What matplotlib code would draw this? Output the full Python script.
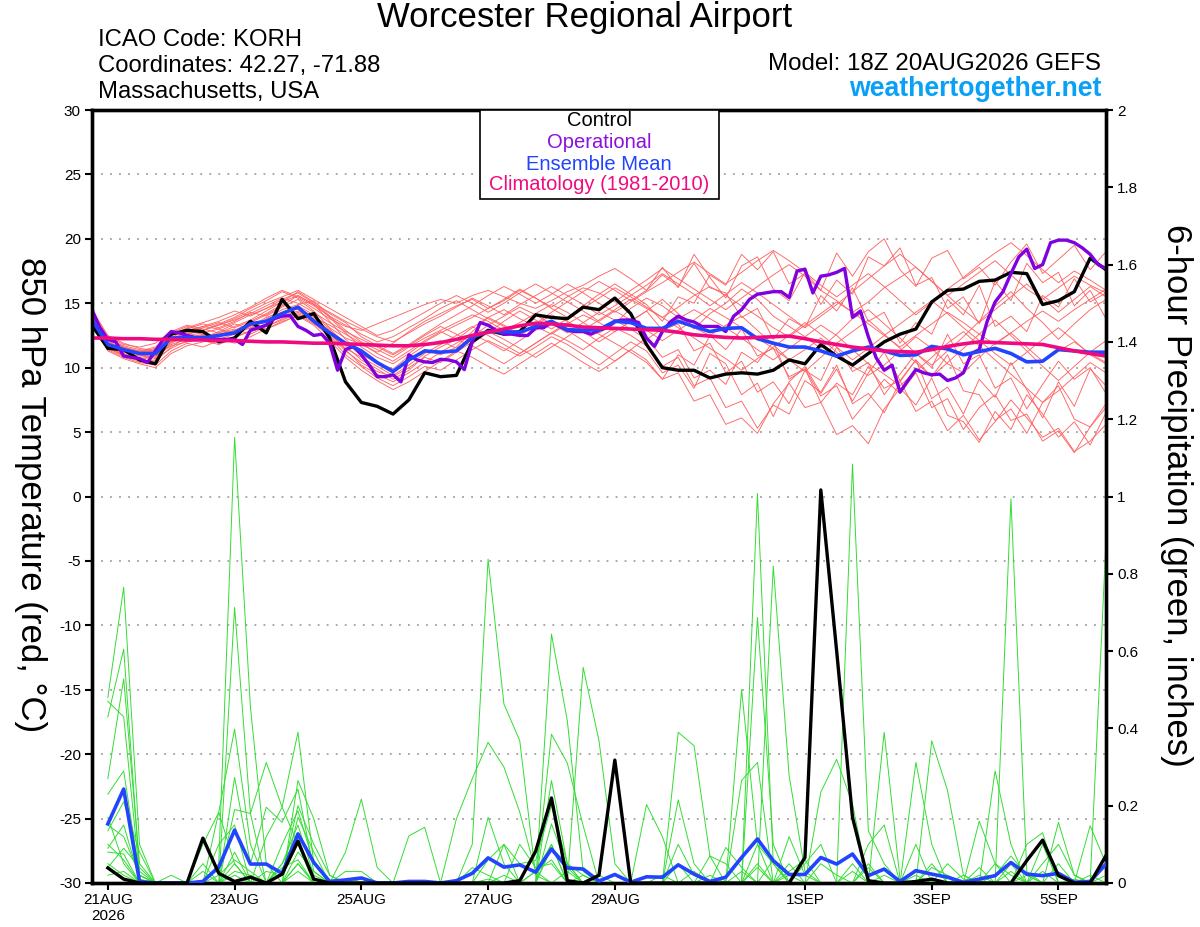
import matplotlib
matplotlib.use('Agg')
import matplotlib.pyplot as plt
import numpy as np
from matplotlib.patches import Rectangle

plt.rcParams['font.family'] = ['Liberation Sans', 'DejaVu Sans']

# ---------------- DATA ----------------
# time axis: 6-hourly steps from 18Z 20AUG2026 (step 0) to 18Z 05SEP2026 (step 64)
tick_steps = [1, 9, 17, 25, 33, 45, 53, 61]
tick_labels = ['21AUG\n2026', '23AUG', '25AUG', '27AUG', '29AUG', '1SEP', '3SEP', '5SEP']

# 850 hPa temperature (deg C), 6-hourly
control_temp = [13.3,11.5,11.4,10.6,10.3,12.6,12.9,12.8,12.0,12.3,
                13.6,12.7,15.3,13.8,14.2,12.3,8.9,7.3,7.0,6.4,
                7.5,9.6,9.3,9.4,12.0,12.9,12.6,12.8,14.1,13.9,
                13.8,14.7,14.5,15.4,14.2,11.8,10.0,9.8,9.8,9.2,
                9.5,9.6,9.5,9.8,10.6,10.3,11.8,10.9,10.2,11.1,
                12.0,12.6,13.0,15.1,16.0,16.1,16.7,16.8,17.4,17.3,
                14.9,15.2,15.9,18.5,17.6]

mean_temp = [13.7,11.8,11.4,11.1,11.1,12.3,12.35,12.3,12.5,12.7,
             13.4,13.6,14.2,14.7,13.6,12.7,11.9,11.3,10.4,9.7,
             10.6,11.3,11.2,11.3,12.35,12.8,12.8,12.75,13.2,13.6,
             12.95,12.9,12.95,13.6,13.5,13.05,13.05,13.6,13.2,12.8,
             13.05,13.1,12.25,11.9,11.6,11.6,11.3,10.9,11.3,11.6,
             11.3,10.95,11.0,11.65,11.45,11.0,11.25,11.5,11.1,10.45,
             10.5,11.4,11.3,11.2,11.2]

clim_temp = [12.3,12.3,12.25,12.25,12.2,12.2,12.15,12.15,12.1,12.1,
             12.05,12.0,12.0,11.95,11.9,11.9,11.85,11.8,11.75,11.7,
             11.7,11.8,11.95,12.2,12.5,12.75,13.0,13.25,13.45,13.4,
             13.3,13.15,13.1,13.05,13.0,12.95,12.9,12.75,12.55,12.45,
             12.35,12.3,12.35,12.4,12.45,12.25,12.0,11.8,11.6,11.45,
             11.3,11.25,11.2,11.4,11.65,11.85,12.0,11.95,11.9,11.85,
             11.8,11.55,11.3,11.1,10.9]

# operational run, 3-hourly (half steps)
oper_temp = [14.5,13.1,12.2,12.0,10.9,10.8,10.7,10.4,11.3,12.2,
             12.8,12.7,12.5,12.35,12.35,12.2,12.2,12.2,12.2,11.8,
             12.9,13.1,13.3,13.8,14.0,14.05,13.2,12.9,12.5,12.6,
             11.9,9.8,11.4,11.65,11.0,10.2,9.3,9.3,9.45,8.9,
             11.0,10.6,10.45,10.4,10.65,
             10.6,10.45,9.85,12.0,13.5,13.3,12.9,12.6,12.6,12.5,
             12.5,13.1,13.1,13.5,13.2,12.9,12.8,12.8,12.6,12.9,
             13.1,13.6,13.7,13.7,13.5,12.3,11.65,12.8,13.55,14.0,
             13.7,13.55,13.2,13.2,13.2,12.8,14.0,14.5,15.3,15.7,
             15.8,15.9,15.9,15.45,17.5,17.65,15.8,17.1,17.2,17.4,
             17.7,13.9,14.4,12.4,10.75,9.8,10.2,8.1,9.0,9.85,
             9.6,9.45,9.5,9.0,9.2,9.6,11.1,11.4,13.6,15.1,
             15.9,17.3,18.6,19.2,17.7,18.0,19.7,19.9,19.9,19.7,
             19.3,18.8,18.0,17.7]

ens_temp = [
 [14.2,12.0,11.3,11.0,10.8,12.0,12.6,12.9,13.4,13.9,14.6,15.2,15.9,15.4,14.6,13.8,13.2,12.9,13.4,13.9,14.4,14.9,15.3,15.0,15.6,16.0,15.5,15.0,14.6,15.2,15.9,16.4,17.1,17.7,16.9,
  16.0,17.8,16.2,18.8,17.0,15.4,17.9,18.6,16.1,15.2,17.4,16.0,18.9,17.1,19.0,20.0,17.6,16.3,18.5,19.1,16.9,17.8,16.4,18.2,19.6,17.3,18.4,19.5,17.6,19.0],
 [13.8,11.6,11.0,10.7,10.9,11.8,12.2,12.5,12.4,12.9,13.5,14.1,14.8,15.6,14.9,13.6,12.2,11.1,10.3,9.6,10.5,11.4,11.0,11.6,12.8,13.9,14.5,13.8,13.2,12.6,13.4,14.1,13.5,12.8,13.6,
  14.4,15.3,14.2,13.1,12.5,13.3,14.0,12.9,11.8,10.6,11.4,12.3,11.2,10.1,9.4,10.2,11.3,12.4,11.5,10.3,9.6,10.8,11.9,12.7,11.6,10.5,11.3,12.0,11.1,10.4],
 [14.0,12.3,11.5,11.2,11.5,12.4,12.0,12.3,12.8,13.4,13.0,13.8,14.5,14.9,15.2,14.0,12.9,12.0,11.4,10.8,11.6,12.3,12.9,13.5,14.1,13.6,12.9,13.5,14.2,14.9,14.3,13.5,12.7,13.4,14.6,
  15.4,14.8,13.9,13.0,14.2,15.0,16.1,15.3,14.0,13.2,12.4,11.5,12.6,13.8,14.5,13.4,12.3,11.1,10.2,11.3,12.4,13.6,14.8,15.9,14.6,13.5,12.2,13.4,14.5,15.3],
 [13.5,11.4,10.8,10.4,10.2,11.3,11.9,11.6,12.1,12.4,12.8,13.2,13.7,14.2,13.5,12.4,11.0,10.1,9.2,8.6,9.3,10.1,9.8,10.6,11.4,12.1,11.5,10.9,11.6,12.4,11.8,11.0,10.2,11.1,12.0,
  11.3,9.6,10.2,8.4,11.1,10.3,7.9,8.8,6.2,8.9,10.1,8.0,9.9,7.4,9.6,11.2,9.0,10.6,7.6,8.5,6.4,9.1,7.7,10.4,8.3,6.1,8.9,7.0,9.9,8.6],
 [14.4,12.2,11.7,11.4,11.2,12.3,13.0,13.4,13.1,13.6,14.3,14.0,14.7,15.3,14.4,13.1,12.3,11.8,11.2,11.9,12.8,13.6,14.2,14.8,15.3,14.6,15.2,16.0,15.4,14.7,15.5,16.2,15.8,15.1,16.0,
  16.8,17.7,16.9,16.1,15.3,14.5,15.4,16.3,17.2,18.0,17.1,16.0,15.2,14.3,15.1,16.2,17.0,17.8,16.7,15.6,16.5,17.4,18.3,17.2,16.1,15.3,16.2,17.1,16.4,15.8],
 [13.9,11.8,11.1,10.6,10.5,11.6,12.4,12.1,11.8,12.3,12.9,13.4,14.0,14.4,13.8,12.9,11.7,10.6,9.9,9.1,9.8,10.9,11.6,12.2,11.7,11.0,10.3,11.1,11.9,12.7,12.1,11.4,12.3,13.1,12.5,
  11.7,10.1,10.8,8.6,9.2,6.9,7.4,5.3,7.1,6.4,9.0,8.1,10.2,7.2,8.0,6.5,8.9,10.6,9.3,11.0,8.2,7.9,5.9,6.8,4.9,7.3,8.6,6.0,5.4,7.2],
 [14.1,12.1,11.4,11.3,11.6,12.6,12.9,13.2,13.6,14.1,14.7,15.4,16.0,15.5,14.8,14.0,13.3,12.6,12.0,12.4,13.1,13.8,14.6,15.2,14.5,13.8,13.2,12.5,13.3,14.1,13.6,12.9,13.7,14.5,15.3,
  14.6,13.9,14.7,15.6,16.3,15.6,14.8,14.0,13.1,12.4,13.3,14.2,15.1,14.3,13.4,12.5,11.6,12.5,13.4,14.3,13.5,12.6,11.8,12.7,13.6,14.4,13.6,14.5,15.3,16.1],
 [13.7,11.5,10.9,10.5,10.6,11.9,12.5,12.7,13.0,12.6,13.2,13.9,14.3,14.8,14.1,13.0,11.9,11.0,10.4,9.9,10.9,11.7,12.1,11.5,12.4,13.3,14.0,14.7,14.1,13.4,12.7,13.5,14.3,13.7,13.0,
  12.2,13.0,13.8,14.5,13.8,13.1,12.3,11.4,10.6,11.5,12.4,13.3,12.5,11.4,10.3,9.5,8.6,9.7,10.8,11.9,12.8,11.7,10.6,9.5,8.4,7.3,8.2,9.3,10.4,9.6],
 [14.3,12.4,11.8,11.6,11.9,12.8,13.3,13.0,12.7,13.2,13.7,14.4,15.1,15.9,15.1,14.2,13.5,12.4,11.7,11.1,11.8,12.6,13.4,14.1,14.8,15.6,16.3,15.7,15.0,15.7,16.5,15.8,15.0,14.3,15.1,
  15.9,16.6,17.4,18.2,17.3,16.5,17.4,18.3,19.1,18.3,17.4,16.4,15.5,16.4,17.3,16.3,15.2,14.1,15.1,16.1,17.0,18.0,18.9,19.7,18.7,17.6,16.6,17.5,16.8,16.0],
 [13.6,11.3,10.7,10.3,10.0,11.1,11.7,12.0,12.3,11.9,12.4,13.0,13.6,14.0,13.3,12.1,10.8,9.8,9.0,8.3,8.9,9.7,10.5,11.3,10.8,10.1,9.5,10.3,11.1,11.9,11.2,10.4,9.7,10.5,11.4,
  10.6,9.1,9.6,7.4,7.9,5.6,6.1,4.9,7.2,8.8,6.9,7.3,4.8,5.5,4.1,6.8,8.4,7.1,9.2,6.3,5.8,4.2,6.6,5.2,7.9,6.4,4.6,5.8,4.0,6.5],
 [14.0,11.9,11.2,10.9,11.1,12.2,12.7,13.1,13.5,13.1,13.6,14.2,14.9,14.5,13.9,13.3,12.6,11.9,11.1,10.5,11.3,12.1,12.8,12.2,13.1,13.9,13.3,12.6,13.4,14.3,15.1,14.4,13.6,14.4,13.7,
  12.9,12.1,12.9,13.7,14.6,13.9,13.1,12.3,11.5,10.6,9.7,10.8,11.9,12.8,13.7,12.6,11.5,10.4,9.3,10.4,11.5,12.6,13.7,12.5,11.3,10.1,9.0,10.1,11.2,12.1],
 [14.5,12.5,11.9,11.5,11.3,12.5,13.1,13.5,13.9,14.4,14.0,14.6,15.3,15.8,15.0,13.9,12.7,11.6,10.8,10.3,11.1,12.0,12.7,13.3,13.9,14.6,15.3,16.1,15.4,14.6,13.9,14.8,15.7,16.5,15.7,
  14.9,13.6,15.5,15.0,17.2,16.4,18.8,17.6,19.0,16.5,17.3,14.9,16.8,15.7,18.6,17.9,19.3,16.4,17.0,14.6,15.5,13.4,16.7,15.2,18.1,16.6,17.4,14.8,16.0,13.8],
 [13.8,11.7,11.0,10.8,11.0,12.0,12.3,12.6,12.2,12.6,13.1,13.6,14.2,14.6,14.0,12.8,11.4,10.2,9.5,8.9,9.6,10.4,11.2,11.9,12.6,12.0,11.3,12.1,12.9,13.6,12.9,12.1,11.3,10.5,11.4,
  12.3,10.8,11.4,9.2,9.8,8.7,11.2,10.4,12.0,9.1,9.9,7.3,8.8,7.9,10.1,8.4,9.0,6.6,7.4,5.1,6.3,4.4,5.8,7.5,6.1,4.6,5.3,3.5,4.3,5.6],
 [14.2,12.0,11.4,11.1,11.4,12.1,12.6,12.9,13.3,13.7,14.2,14.8,15.4,15.0,14.3,13.5,12.8,12.2,11.6,11.0,11.7,12.5,13.2,12.6,11.9,12.7,13.6,14.4,13.7,13.0,13.8,14.6,15.4,16.2,15.5,
  14.7,13.9,13.1,12.3,11.5,10.7,9.8,10.7,11.6,12.5,13.5,12.6,11.6,10.6,11.5,12.5,13.4,14.3,15.2,14.2,13.1,12.1,11.1,10.2,11.2,12.2,13.1,12.1,11.0,10.3],
 [13.9,11.8,11.3,11.0,10.7,11.5,12.1,12.4,12.6,12.9,13.3,13.0,13.5,14.1,13.4,12.5,11.3,10.4,9.7,9.3,10.0,10.8,10.4,11.2,12.0,12.8,12.2,11.5,10.8,11.6,12.4,13.2,12.6,11.9,11.2,
  10.4,9.1,11.0,10.2,12.5,11.4,13.0,10.9,11.5,9.3,9.9,7.8,8.6,6.0,7.5,9.1,8.0,9.6,6.9,7.6,5.2,6.9,7.9,5.9,6.4,4.3,5.1,3.4,5.4,6.9],
 [14.1,12.2,11.6,11.3,11.0,12.2,12.8,13.2,13.0,13.5,14.1,14.6,15.1,15.6,14.9,14.3,13.6,13.0,12.4,12.0,12.7,13.4,14.0,14.7,15.4,14.8,14.1,14.9,15.6,16.3,15.6,14.9,14.1,14.8,15.6,
  16.4,17.3,16.5,15.7,14.8,15.7,16.6,15.8,14.9,14.0,13.1,14.0,14.9,15.9,16.9,17.9,18.8,17.8,16.7,15.6,14.5,13.5,14.5,15.5,16.5,15.4,14.3,15.3,16.3,15.5],
 [13.7,11.6,10.9,10.6,10.9,11.7,12.0,12.3,12.7,13.0,12.6,13.2,13.8,14.3,13.7,12.6,11.5,10.8,10.1,9.4,10.2,11.1,11.8,12.5,13.2,12.5,11.8,11.1,11.9,12.7,13.5,12.8,12.0,12.8,13.6,
  14.4,12.9,13.4,11.3,11.9,9.6,10.5,8.1,8.9,7.2,9.8,9.0,11.6,9.7,10.4,7.9,9.5,11.1,10.0,12.6,10.3,11.0,8.4,9.2,6.8,8.7,10.5,9.1,10.0,8.0],
 [14.3,12.3,11.6,11.2,11.4,12.7,13.2,12.9,13.3,13.8,14.4,15.0,15.5,16.0,15.3,14.6,13.9,13.2,12.5,12.9,13.6,14.3,15.0,15.6,15.0,14.3,15.0,15.8,16.5,15.8,15.1,15.9,16.7,16.0,15.2,
  16.0,17.2,16.3,18.1,16.2,15.8,13.9,14.6,12.2,13.8,13.1,15.6,14.4,16.2,13.6,14.3,11.9,13.5,12.6,15.3,14.1,16.4,13.2,14.0,12.8,15.6,14.7,16.9,15.1,15.8],
]

# 6-hour precipitation (inches), steps 1..64
control_precip = [0.039,0.01,0,0,0,0,0.116,0.025,0.004,0.015,0,0.023,0.108,0.01,
                  0,0,0,0,0,0,0,0,0,0,0,0,
                  0.006,0.082,0.22,0.006,0,0.02,0.318,0,
                  0,0,0,0,0,0,0,0,0,0,
                  0.066,1.017,0.6,0.17,0.006,0,0,0.004,0.01,0,0,0,0,0,0.058,0.111,0.019,0,0,0.071]

mean_precip = [0.153,0.243,0.004,0,0,0,0.004,0.041,0.137,0.049,
               0.049,0.025,0.127,0.053,0.004,0.008,0.013,0,0,0.004,
               0.004,0,0.006,0.025,0.065,0.041,0.047,0.028,0.088,0.039,
               0.036,0.005,0.022,0.002,0.016,0.015,0.047,0.023,0.004,0.015,
               0.066,0.114,0.058,0.022,0.022,0.066,0.049,0.075,0.019,0.036,
               0.004,0.032,0.023,0.015,0.002,0.01,0.019,0.053,0.023,0.019,
               0.025,0.002,0.004,0.049]

# ensemble members: nonzero 6-hour precipitation by step (other steps are 0)
ens_precip = [
 {1:0.48, 2:0.765, 3:0.10, 8:0.05, 9:1.153, 10:0.455, 11:0.05, 13:0.05, 25:0.06, 26:0.10, 29:0.10, 42:1.008, 43:0.05, 48:0.05, 58:0.994, 59:0.03},
 {1:0.43, 2:0.605, 3:0.03, 9:0.713, 10:0.18, 11:0.312, 12:0.196, 13:0.39, 14:0.05, 24:0.10, 25:0.838, 26:0.463, 27:0.368, 28:0.02, 41:0.50, 42:0.10, 48:1.084, 49:0.135, 50:0.05, 64:0.886},
 {1:0.27, 2:0.528, 3:0.05, 8:0.183, 9:0.398, 10:0.10, 13:0.265, 14:0.166, 15:0.02, 29:0.644, 30:0.42, 31:0.03, 43:0.82, 44:0.278, 45:0.03, 53:0.368, 54:0.239, 55:0.02},
 {1:0.23, 2:0.29, 3:0.02, 7:0.05, 9:0.273, 10:0.05, 11:0.196, 12:0.157, 13:0.243, 14:0.03, 23:0.166, 24:0.27, 25:0.364, 26:0.30, 27:0.183, 28:0.03, 31:0.558, 32:0.368, 33:0.05, 37:0.39, 38:0.355, 39:0.07, 42:0.687, 43:0.10, 57:0.29, 58:0.10},
 {1:0.135, 2:0.21, 3:0.08, 9:0.19, 10:0.18, 12:0.10, 13:0.187, 14:0.05, 16:0.08, 17:0.217, 18:0.04, 29:0.385, 30:0.31, 31:0.148, 35:0.203, 36:0.12, 41:0.265, 42:0.312, 46:0.235, 47:0.32, 48:0.204, 50:0.39, 51:0.01},
 {1:0.09, 2:0.15, 3:0.01, 8:0.10, 9:0.15, 13:0.17, 14:0.08, 20:0.122, 21:0.144, 29:0.265, 30:0.05, 37:0.215, 38:0.05, 44:0.05, 52:0.312, 53:0.10, 56:0.16, 57:0.05, 61:0.157, 62:0.02},
 {1:0.47, 2:0.43, 3:0.02, 9:0.05, 12:0.05, 13:0.12, 25:0.17, 26:0.05, 29:0.153, 30:0.04, 40:0.092, 41:0.04, 49:0.10, 50:0.15, 52:0.10, 58:0.05, 60:0.10, 63:0.148, 64:0.05},
 {1:0.08, 2:0.075, 7:0.10, 8:0.183, 9:0.05, 11:0.12, 12:0.196, 13:0.10, 26:0.10, 27:0.05, 28:0.058, 29:0.20, 30:0.05, 39:0.07, 40:0.05, 45:0.05, 46:0.10, 54:0.05, 55:0.01, 59:0.10, 60:0.13},
 {1:0.05, 2:0.02, 9:0.02, 13:0.05, 16:0.03, 17:0.03, 32:0.02, 37:0.10, 38:0.02, 44:0.12, 45:0.02, 49:0.05, 53:0.05, 56:0.02, 60:0.05, 61:0.10, 62:0.02},
 {1:0.15, 2:0.12, 3:0.02, 5:0.02, 10:0.02, 12:0.05, 13:0.15, 14:0.02, 28:0.03, 29:0.10, 31:0.02, 42:0.10, 43:0.05, 57:0.02, 58:0.07, 59:0.02},
 {1:0.02, 2:0.03, 8:0.02, 9:0.06, 10:0.03, 13:0.08, 14:0.03, 26:0.02, 28:0.03, 29:0.06, 36:0.02, 42:0.04, 46:0.05, 47:0.02, 52:0.02, 58:0.03, 61:0.05, 63:0.02},
 {1:0.10, 2:0.06, 7:0.03, 9:0.08, 12:0.04, 13:0.06, 17:0.01, 25:0.01, 30:0.03, 37:0.05, 41:0.03, 43:0.06, 48:0.03, 50:0.02, 56:0.04, 59:0.02, 62:0.01},
 {1:0.04, 2:0.09, 3:0.04, 11:0.03, 12:0.02, 13:0.20, 14:0.10, 15:0.02, 27:0.10, 28:0.04, 29:0.05, 39:0.02, 44:0.03, 45:0.06, 53:0.04, 54:0.02, 60:0.03, 64:0.02},
 {1:0.17, 2:0.05, 9:0.03, 10:0.02, 13:0.03, 24:0.04, 25:0.02, 29:0.09, 30:0.05, 31:0.02, 38:0.03, 42:0.05, 44:0.02, 49:0.04, 55:0.02, 57:0.05, 58:0.02},
]

for name, s, n in [('control', control_temp, 65), ('mean', mean_temp, 65), ('clim', clim_temp, 65),
                   ('oper', oper_temp, 129), ('cp', control_precip, 64), ('mp', mean_precip, 64)]:
    assert len(s) == n, (name, len(s))
for j, m in enumerate(ens_temp):
    assert len(m) == 65, ('ens', j, len(m))

# ---------------- PLOT ----------------
W, H = 1200, 927
fig = plt.figure(figsize=(W / 100, H / 100), dpi=100)
L, R, T, B = 92, 1106, 110, 883
ax = fig.add_axes([L / W, 1 - B / H, (R - L) / W, (B - T) / H])
ax2 = ax.twinx()

steps = np.arange(65)
psteps = np.arange(1, 65)
osteps = np.arange(129) / 2.0

for m in ens_temp:
    ax.plot(steps, m, color='#ff6464', lw=0.65, zorder=2)
ax.plot(steps, control_temp, color='black', lw=2.4, zorder=4)
ax.plot(osteps, oper_temp, color='#8000e0', lw=2.4, zorder=5)
ax.plot(steps, mean_temp, color='#2244ff', lw=2.6, zorder=6)
ax.plot(steps, clim_temp, color='#f00a80', lw=2.6, zorder=7)

for d in ens_precip:
    vals = np.zeros(64)
    for k, v in d.items():
        vals[k - 1] = v
    ax2.plot(psteps, vals, color='#33dd33', lw=0.7, zorder=2)
ax2.plot(psteps, mean_precip, color='#2244ff', lw=2.6, zorder=4)
ax2.plot(psteps, control_precip, color='black', lw=2.4, zorder=5)

ax.set_xlim(0, 64)
ax.set_ylim(-30, 30)
ax2.set_ylim(0, 2)

ax.set_yticks(np.arange(-30, 31, 5))
ax.set_yticklabels([str(v) for v in range(-30, 31, 5)])
ax.yaxis.grid(True, linestyle=(0, (1, 4)), color='#a0a0a0', lw=1.3, zorder=0)
ax.set_axisbelow(True)
ax2.set_yticks(np.arange(0, 2.01, 0.2))
ax2.set_yticklabels(['0', '0.2', '0.4', '0.6', '0.8', '1', '1.2', '1.4', '1.6', '1.8', '2'])

ax.set_xticks(tick_steps)
ax.set_xticklabels(tick_labels)

ax.tick_params(axis='y', direction='out', length=5, width=1.5, labelsize=11, pad=3)
ax.tick_params(axis='x', direction='out', length=5, width=1.5, labelsize=11, pad=2)
ax2.tick_params(axis='y', direction='out', length=5, width=1.5, labelsize=11, pad=3)

for a in (ax, ax2):
    for sp in a.spines.values():
        sp.set_linewidth(2.4)

# labels
fig.text(30 / W, 1 - 495 / H, '850 hPa Temperature (red, \u00b0C)', rotation=-90,
         ha='center', va='center', fontsize=25)
fig.text(1176 / W, 1 - 495 / H, '6-hour Precipitation (green, inches)', rotation=-90,
         ha='center', va='center', fontsize=25)

fig.text(585 / W, 1 - 18 / H, 'Worcester Regional Airport', ha='center', va='center', fontsize=25)
for txt, yy in [('ICAO Code: KORH', 40), ('Coordinates: 42.27, -71.88', 66), ('Massachusetts, USA', 92)]:
    fig.text(98 / W, 1 - yy / H, txt, ha='left', va='center', fontsize=17.2)
fig.text(1101 / W, 1 - 64 / H, 'Model: 18Z 20AUG2026 GEFS', ha='right', va='center', fontsize=17.4)
fig.text(1101 / W, 1 - 89 / H, 'weathertogether.net', ha='right', va='center', fontsize=19.2,
         fontweight='bold', color='#0aa0f5')

# legend box
fig.patches.append(Rectangle((480 / W, 1 - 199 / H), 239 / W, 89 / H, transform=fig.transFigure,
                             facecolor='white', edgecolor='black', lw=1.2, zorder=10))
for txt, col, yy in [('Control', 'black', 121), ('Operational', '#8a10e0', 142),
                     ('Ensemble Mean', '#2244ff', 164), ('Climatology (1981-2010)', '#f00a80', 185)]:
    fig.text(599 / W, 1 - yy / H, txt, ha='center', va='center', fontsize=14.5, color=col, zorder=11)

fig.savefig('out.png', dpi=100)
